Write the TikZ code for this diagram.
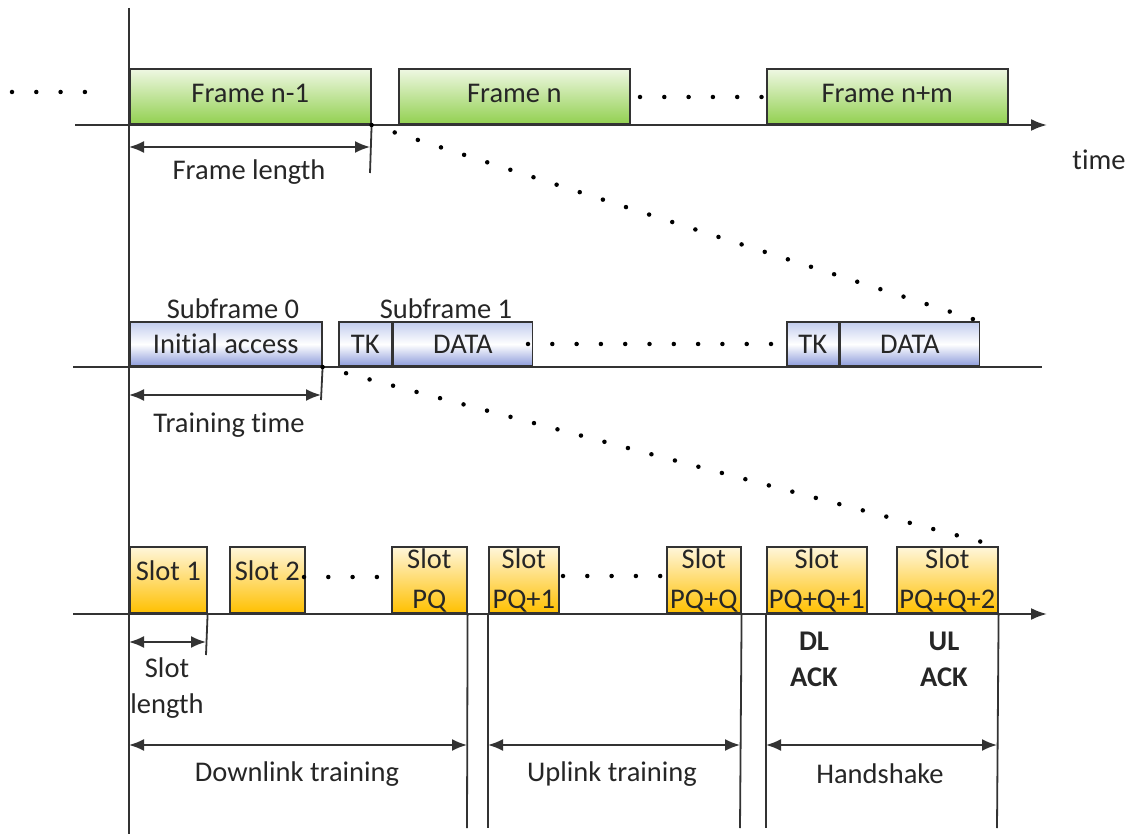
\documentclass[tikz,border=0pt]{standalone}
\usepackage{fontspec}
\setmainfont{Carlito}[Ligatures={NoCommon}]
\usetikzlibrary{arrows.meta}
\definecolor{grn}{HTML}{92D050}
\definecolor{grnl}{HTML}{EEF7E2}
\definecolor{blu}{HTML}{8C9BDB}
\definecolor{blul}{HTML}{C3CDEE}
\definecolor{org}{HTML}{FFC000}
\definecolor{orgl}{HTML}{FFF6DA}
\definecolor{lin}{HTML}{333333}
\newcommand{\bigf}{\fontsize{28.5}{36}\selectfont}

\begin{document}
\begin{tikzpicture}[x=1pt,y=-1pt]
\tikzstyle{every node}=[font=\bigf, text=black!85]
\tikzstyle{box}=[draw=lin, line width=1.6pt, anchor=south west, inner sep=0pt, align=center]
\tikzstyle{frm}=[box, minimum height=55, top color=grnl, bottom color=grn, text depth=7pt]
\tikzstyle{sub}=[box, minimum height=44, top color=blul, bottom color=blu, middle color=white]
\tikzstyle{slt}=[box, minimum height=66, top color=orgl, bottom color=org]
\tikzstyle{one}=[text depth=20pt]
\tikzstyle{ax}=[line width=2.2pt, lin]
\tikzstyle{thn}=[line width=1.8pt, lin]
\tikzstyle{dim}=[line width=1.8pt, lin, {Latex[length=15pt,width=12pt]}-{Latex[length=15pt,width=12pt]}]
\tikzstyle{dots}=[line width=4.5pt, line cap=round, dash pattern=on 0pt off 24.3pt]
\useasboundingbox (0,0) rectangle (1138,834);
%main line
\coordinate (vt) at (129,8);
\coordinate (vb) at (129,834);
\draw[thn] (vt) -- (vb);
%frames
\node[frm, minimum width=241] (f1) at (129,125) {Frame n-1};
\node[frm, minimum width=231] (f2) at (398,125) {Frame n};
\node[frm, minimum width=241] (f3) at (766,125) {Frame n+m};
\coordinate (a1) at (75,125);
\coordinate (a1e) at (1047,125);
\draw[ax, -{Latex[length=16pt,width=12pt]}] (a1) -- (a1e);
\coordinate (fe) at (370,173);
\draw[thn] (f1.south east) -- (fe);
\coordinate (fla) at (129,147);
\coordinate (flb) at (370,147);
\draw[dim] (fla) -- (flb);
\node (flen) at (249,172) {Frame length};
\node (tm) at (1099,160) {time};
\draw[dots] (12,92) -- (90,92);
\draw[dots] (640,97) -- (765,97);
%subframes
\node (sf0) at (233,309) {Subframe 0};
\node (sf1) at (446,309) {Subframe 1};
\node[sub, minimum width=192] (ia) at (129,367) {Initial access};
\node[sub, minimum width=53] (tk1) at (338,367) {TK};
\node[sub, minimum width=139] (d1) at (tk1.south east) {DATA};
\node[sub, minimum width=52] (tk2) at (786,367) {TK};
\node[sub, minimum width=139] (d2) at (tk2.south east) {DATA};
\coordinate (a2) at (73,367);
\coordinate (a2e) at (1042,367);
\draw[ax] (a2) -- (a2e);
\coordinate (te) at (321,400);
\draw[thn] (ia.south east) -- (te);
\coordinate (tta) at (129,395);
\coordinate (ttb) at (321,395);
\draw[dim] (tta) -- (ttb);
\node (ttime) at (229,425) {Training time};
\draw[dots] (528,344) -- (775,344);
\draw[dots] (f1.south east) -- (d2.north east);
%slots
\node[slt, one, minimum width=77] (s1) at (129,614) {Slot 1};
\node[slt, one, minimum width=75] (s2) at (229,614) {Slot 2};
\node[slt, minimum width=75] (spq) at (391,614) {Slot\\[4pt]PQ};
\node[slt, minimum width=70] (sa) at (488,614) {Slot\\[4pt]PQ+1};
\node[slt, minimum width=74] (sb) at (666,614) {Slot\\[4pt]PQ+Q};
\node[slt, minimum width=100] (sc) at (766,614) {Slot\\[4pt]PQ+Q+1};
\node[slt, minimum width=101] (sd) at (896,614) {Slot\\[4pt]PQ+Q+2};
\coordinate (a3) at (73,614);
\coordinate (a3e) at (1047,614);
\draw[ax, -{Latex[length=16pt,width=12pt]}] (a3) -- (a3e);
\draw[dots] (304,577) -- (385,577);
\draw[dots] (563,576) -- (665,576);
\draw[dots] (ia.south east) -- (sd.north east);
\coordinate (se) at (206,655);
\draw[thn] (s1.south east) -- (se);
\coordinate (sla) at (129,642);
\coordinate (slb) at (206,642);
\draw[dim] (sla) -- (slb);
\node[align=center] (slen) at (167,688) {Slot\\length};
\node[align=center, font=\bigf\bfseries] (dla) at (814,659) {DL\\ACK};
\node[align=center, font=\bigf\bfseries] (ula) at (944,659) {UL\\ACK};
%phases
\coordinate (e1) at (467,828);
\coordinate (e2) at (488,828);
\coordinate (e3) at (740,828);
\coordinate (e4) at (766,828);
\coordinate (e5) at (997,828);
\draw[thn] (spq.south east) -- (e1);
\draw[thn] (sa.south west) -- (e2);
\draw[thn] (sb.south east) -- (e3);
\draw[thn] (sc.south west) -- (e4);
\draw[thn] (sd.south east) -- (e5);
\coordinate (p0) at (129,745);
\coordinate (p1) at (467,745);
\coordinate (p2) at (488,745);
\coordinate (p3) at (740,745);
\coordinate (p4) at (766,745);
\coordinate (p5) at (997,745);
\draw[dim] (p0) -- (p1);
\draw[dim] (p2) -- (p3);
\draw[dim] (p4) -- (p5);
\node (dlt) at (297,774) {Downlink training};
\node (ult) at (612,774) {Uplink training};
\node (hs) at (880,774) {Handshake};
\end{tikzpicture}
\end{document}
